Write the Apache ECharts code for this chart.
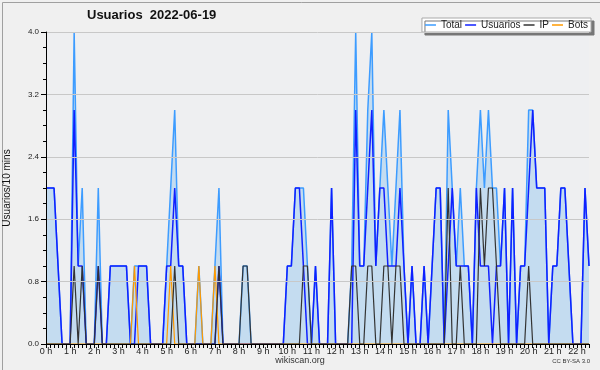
<!DOCTYPE html>
<html><head><meta charset="utf-8">
<script src="https://cdn.jsdelivr.net/npm/echarts@6/dist/echarts.min.js"></script>
<style>html,body{margin:0;padding:0;background:#f0f0f0}#c{width:600px;height:370px}</style>
</head><body><div id="c"></div>
<script>
// 10-minute bins, 00:00 .. 22:30
const times = [];
for (let h = 0; h < 23; h++) for (let m = 0; m < 60; m += 10) { if (times.length < 136) times.push(h + ':' + (m < 10 ? '0' + m : m)); }

const total = [
 2,2,2,1,0,0,0,4,1,2,
 0,0,0,2,0,0,1,1,1,1,
 1,0,1,1,1,1,0,0,0,0,
 1,2,3,1,1,0,0,0,1,0,
 0,0,1,2,0,0,0,0,0,1,
 1,0,0,0,0,0,0,0,0,0,
 1,1,2,2,2,1,0,1,0,0,
 0,2,0,0,0,0,1,4,1,1,
 3,4,1,2,3,2,1,2,3,1,
 0,1,0,0,1,0,1,2,2,0,
 3,2,1,2,1,1,0,2,3,2,
 3,2,2,1,2,0,2,0,1,1,
 3,3,2,2,2,0,1,1,2,2,
 1,0,0,0,2,1];
const usuarios = [
 2,2,2,1,0,0,0,3,1,1,
 0,0,0,1,0,0,1,1,1,1,
 1,0,0,1,1,1,0,0,0,0,
 1,1,2,1,1,0,0,0,0,0,
 0,0,0,1,0,0,0,0,0,0,
 0,0,0,0,0,0,0,0,0,0,
 1,1,2,2,1,0,0,1,0,0,
 0,2,0,0,0,0,0,3,1,1,
 2,3,1,2,2,1,1,1,2,1,
 0,1,0,0,1,0,1,2,2,0,
 1,2,1,1,1,1,0,2,1,1,
 1,0,1,1,2,0,2,0,1,1,
 2,3,2,2,2,0,1,1,2,2,
 1,0,0,0,2,1];
const ip = [
 0,0,0,0,0,0,0,1,0,1,
 0,0,0,1,0,0,0,0,0,0,
 0,0,0,0,0,0,0,0,0,0,
 0,0,1,0,0,0,0,0,0,0,
 0,0,0,1,0,0,0,0,0,1,
 1,0,0,0,0,0,0,0,0,0,
 0,0,0,0,1,1,0,0,0,0,
 0,0,0,0,0,0,1,1,0,0,
 1,1,0,0,1,1,0,1,1,0,
 0,0,0,0,0,0,0,0,0,0,
 2,0,0,1,0,0,0,0,2,1,
 2,2,1,0,0,0,0,0,0,0,
 1,0,0,0,0,0,0,0,0,0,
 0,0,0,0,0,0];
const bots = [
 0,0,0,0,0,0,0,0,0,0,
 0,0,0,0,0,0,0,0,0,0,
 0,0,1,0,0,0,0,0,0,0,
 0,1,0,0,0,0,0,0,1,0,
 0,0,1,0,0,0,0,0,0,0,
 0,0,0,0,0,0,0,0,0,0,
 0,0,0,0,0,0,0,0,0,0,
 0,0,0,0,0,0,0,0,0,0,
 0,0,0,0,0,0,0,0,0,0,
 0,0,0,0,0,0,0,0,0,0,
 0,0,0,0,0,0,0,0,0,0,
 0,0,0,0,0,0,0,0,0,0,
 0,0,0,0,0,0,0,0,0,0,
 0,0,0,0,0,0];
const seriesNames = ['Total', 'Usuarios', 'IP', 'Bots'];
const yTicks = [0, 0.8, 1.6, 2.4, 3.2, 4.0];

const FONT = 'Liberation Sans';
const chart = echarts.init(document.getElementById('c'), null, {renderer: 'canvas'});
chart.setOption({
  backgroundColor: '#f0f0f0',
  animation: false,
  textStyle: {fontFamily: FONT},
  title: {
    text: 'Usuarios  2022-06-19', left: 87, top: 9, padding: 0,
    textStyle: {fontFamily: FONT, fontSize: 13, fontWeight: 'bold', color: '#111'}
  },
  legend: {
    data: seriesNames, right: 9, top: 18, orient: 'horizontal',
    icon: 'rect', itemWidth: 11, itemHeight: 1.5, itemGap: 3,
    padding: [2, 3, 2, 3],
    backgroundColor: '#fff', borderColor: '#aaa', borderWidth: 1,
    shadowColor: '#777', shadowOffsetX: 3, shadowOffsetY: 3, shadowBlur: 0,
    textStyle: {fontFamily: FONT, fontSize: 10, color: '#222'}
  },
  grid: {left: 46, right: 11, top: 32, bottom: 26, show: true, backgroundColor: '#eeeff1', borderWidth: 0,
    containLabel: false, outerBoundsMode: 'none'},
  xAxis: {
    type: 'category', data: times, boundaryGap: false, z: 10,
    axisLine: {lineStyle: {color: '#000', width: 1}},
    axisTick: {interval: 0, length: 4, lineStyle: {color: '#000'}},
    axisLabel: {interval: 5, margin: 3, fontSize: 9, color: '#222', fontFamily: FONT,
      formatter: v => parseInt(v, 10) + ' h'},
    splitLine: {show: false}
  },
  yAxis: {
    type: 'value', min: yTicks[0], max: yTicks[yTicks.length - 1], interval: 0.8, z: 10,
    name: 'Usuarios/10 mins', nameLocation: 'middle', nameGap: 34,
    nameTextStyle: {fontFamily: FONT, fontSize: 10, color: '#111'},
    axisLine: {show: true, lineStyle: {color: '#000', width: 1}},
    axisTick: {show: true, length: 5, lineStyle: {color: '#000'}},
    minorTick: {show: true, splitNumber: 4, length: 3, lineStyle: {color: '#000'}},
    axisLabel: {fontSize: 8, color: '#222', margin: 7, fontFamily: FONT, formatter: v => v.toFixed(1)},
    splitLine: {show: true, lineStyle: {color: '#c8c8c8', width: 1}}
  },
  series: [
    {name: 'Total', type: 'line', data: total, symbol: 'none', z: 2,
      lineStyle: {color: '#3d9cff', width: 1.5}, itemStyle: {color: '#3d9cff'},
      areaStyle: {color: '#c4dcf0', opacity: 1}},
    {name: 'Usuarios', type: 'line', data: usuarios, symbol: 'none', z: 3,
      lineStyle: {color: '#1020ff', width: 1.5}, itemStyle: {color: '#1020ff'}},
    {name: 'IP', type: 'line', data: ip, symbol: 'none', z: 4,
      lineStyle: {color: '#333', width: 1.2}, itemStyle: {color: '#333'}},
    {name: 'Bots', type: 'line', data: bots, symbol: 'none', z: 3,
      lineStyle: {color: '#ff9a00', width: 1.2}, itemStyle: {color: '#ff9a00'}}
  ],
  graphic: [
    {type: 'rect', left: 0, top: 0, shape: {width: 599, height: 369}, style: {fill: 'none', stroke: '#a0a0a0', lineWidth: 1}, silent: true},
    {type: 'text', left: 'center', top: 356, style: {text: 'wikiscan.org', fontFamily: FONT, fontSize: 9, fill: '#333'}},
    {type: 'text', right: 10, top: 358, style: {text: 'CC BY-SA 3.0', fontFamily: FONT, fontSize: 6, fill: '#333'}}
  ]
});
</script></body></html>
